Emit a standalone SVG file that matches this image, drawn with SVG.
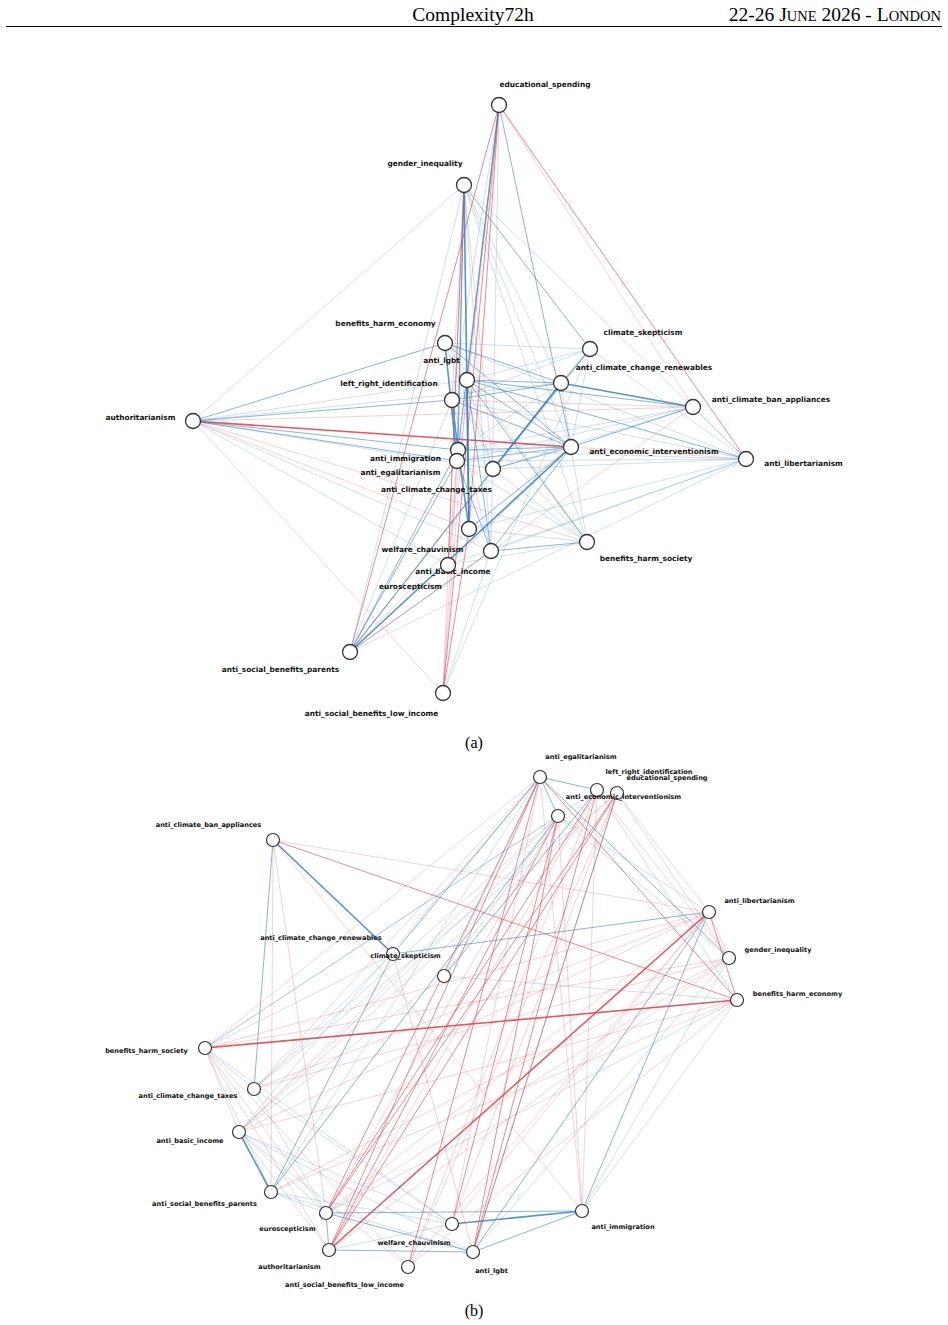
<svg xmlns="http://www.w3.org/2000/svg" width="948" height="1325" viewBox="0 0 948 1325">
<style>
.b1{stroke:#3a80c0;stroke-width:0.7;opacity:0.35}
.b2{stroke:#3a80c0;stroke-width:0.9;opacity:0.65}
.b3{stroke:#3a80c0;stroke-width:1.6;opacity:0.85}
.r1{stroke:#e0464e;stroke-width:0.7;opacity:0.35}
.r2{stroke:#e0464e;stroke-width:0.9;opacity:0.7}
.r3{stroke:#e0464e;stroke-width:1.6;opacity:0.9}
.p1{stroke:#7a5f90;stroke-width:0.8;opacity:0.6}
.na circle{fill:#fff;stroke:#333;stroke-width:1.3}
.nb circle{fill:#fff;stroke:#333;stroke-width:1.2}
.la{font-family:"DejaVu Sans",sans-serif;font-weight:bold;font-size:7.4px;fill:#111;text-anchor:middle}
.lb{font-family:"DejaVu Sans",sans-serif;font-weight:bold;font-size:6.6px;fill:#111;text-anchor:middle}
.cap{font-family:"Liberation Serif",serif;font-size:16px;fill:#000;text-anchor:middle}
</style>
<rect width="948" height="1325" fill="#fff"/>
<g id="header">
<text x="473" y="21" font-family="Liberation Serif, serif" font-size="19.5" text-anchor="middle">Complexity72h</text>
<text x="941" y="21" font-family="Liberation Serif, serif" font-size="19.5" text-anchor="end">22-26 J<tspan font-size="14.5">UNE</tspan> 2026 - L<tspan font-size="14.5">ONDON</tspan></text>
<line x1="6" y1="26.5" x2="942" y2="26.5" stroke="#000" stroke-width="1"/>
</g>
<g id="edges-a">
<line class="r3" x1="193" y1="421" x2="571" y2="447"/>
<line class="r1" x1="571" y1="447" x2="746" y2="459"/>
<line class="b1" x1="193" y1="421" x2="464" y2="185"/>
<line class="b2" x1="193" y1="421" x2="445" y2="343"/>
<line class="b2" x1="193" y1="421" x2="452" y2="400"/>
<line class="b1" x1="193" y1="421" x2="467" y2="380"/>
<line class="b2" x1="193" y1="421" x2="458" y2="450"/>
<line class="b2" x1="193" y1="421" x2="457" y2="461"/>
<line class="b1" x1="193" y1="421" x2="493" y2="469"/>
<line class="r1" x1="193" y1="421" x2="469" y2="529"/>
<line class="r1" x1="193" y1="421" x2="587" y2="542"/>
<line class="r1" x1="193" y1="421" x2="443" y2="693"/>
<line class="b1" x1="193" y1="421" x2="491" y2="551"/>
<line class="b1" x1="193" y1="421" x2="448" y2="565"/>
<line class="r1" x1="193" y1="421" x2="693" y2="407"/>
<line class="b1" x1="193" y1="421" x2="561" y2="383"/>
<line class="r2" x1="499" y1="105" x2="350" y2="652"/>
<line class="r2" x1="499" y1="105" x2="443" y2="693"/>
<line class="r2" x1="499" y1="105" x2="469" y2="529"/>
<line class="r1" x1="499" y1="105" x2="448" y2="565"/>
<line class="b2" x1="499" y1="105" x2="467" y2="380"/>
<line class="b1" x1="499" y1="105" x2="452" y2="400"/>
<line class="b2" x1="499" y1="105" x2="458" y2="450"/>
<line class="b1" x1="499" y1="105" x2="457" y2="461"/>
<line class="b2" x1="499" y1="105" x2="571" y2="447"/>
<line class="r1" x1="499" y1="105" x2="693" y2="407"/>
<line class="r2" x1="499" y1="105" x2="746" y2="459"/>
<line class="b1" x1="499" y1="105" x2="491" y2="551"/>
<line class="b3" x1="464" y1="185" x2="469" y2="529"/>
<line class="b2" x1="464" y1="185" x2="457" y2="461"/>
<line class="b2" x1="464" y1="185" x2="458" y2="450"/>
<line class="b1" x1="464" y1="185" x2="452" y2="400"/>
<line class="r1" x1="464" y1="185" x2="493" y2="469"/>
<line class="b1" x1="464" y1="185" x2="491" y2="551"/>
<line class="b1" x1="464" y1="185" x2="571" y2="447"/>
<line class="b2" x1="464" y1="185" x2="590" y2="349"/>
<line class="b1" x1="464" y1="185" x2="587" y2="542"/>
<line class="r2" x1="464" y1="185" x2="448" y2="565"/>
<line class="b1" x1="464" y1="185" x2="350" y2="652"/>
<line class="r1" x1="464" y1="185" x2="443" y2="693"/>
<line class="b1" x1="464" y1="185" x2="561" y2="383"/>
<line class="b1" x1="464" y1="185" x2="746" y2="459"/>
<line class="b3" x1="445" y1="343" x2="457" y2="461"/>
<line class="b1" x1="445" y1="343" x2="590" y2="349"/>
<line class="b2" x1="445" y1="343" x2="561" y2="383"/>
<line class="b2" x1="445" y1="343" x2="571" y2="447"/>
<line class="b1" x1="445" y1="343" x2="587" y2="542"/>
<line class="b1" x1="445" y1="343" x2="493" y2="469"/>
<line class="b1" x1="445" y1="343" x2="746" y2="459"/>
<line class="b3" x1="467" y1="380" x2="469" y2="529"/>
<line class="b1" x1="467" y1="380" x2="590" y2="349"/>
<line class="b2" x1="467" y1="380" x2="561" y2="383"/>
<line class="b2" x1="467" y1="380" x2="693" y2="407"/>
<line class="b2" x1="467" y1="380" x2="571" y2="447"/>
<line class="b2" x1="467" y1="380" x2="746" y2="459"/>
<line class="b2" x1="467" y1="380" x2="587" y2="542"/>
<line class="b1" x1="467" y1="380" x2="493" y2="469"/>
<line class="b2" x1="467" y1="380" x2="491" y2="551"/>
<line class="b3" x1="452" y1="400" x2="458" y2="450"/>
<line class="b1" x1="452" y1="400" x2="590" y2="349"/>
<line class="b2" x1="452" y1="400" x2="561" y2="383"/>
<line class="r1" x1="452" y1="400" x2="693" y2="407"/>
<line class="b2" x1="452" y1="400" x2="571" y2="447"/>
<line class="b1" x1="452" y1="400" x2="746" y2="459"/>
<line class="b1" x1="452" y1="400" x2="491" y2="551"/>
<line class="b2" x1="458" y1="450" x2="571" y2="447"/>
<line class="b2" x1="457" y1="461" x2="571" y2="447"/>
<line class="b1" x1="458" y1="450" x2="561" y2="383"/>
<line class="b1" x1="457" y1="461" x2="693" y2="407"/>
<line class="b1" x1="457" y1="461" x2="746" y2="459"/>
<line class="b3" x1="458" y1="450" x2="469" y2="529"/>
<line class="b2" x1="457" y1="461" x2="491" y2="551"/>
<line class="b1" x1="457" y1="461" x2="587" y2="542"/>
<line class="b2" x1="457" y1="461" x2="350" y2="652"/>
<line class="b1" x1="457" y1="461" x2="448" y2="565"/>
<line class="b1" x1="458" y1="450" x2="693" y2="407"/>
<line class="b3" x1="493" y1="469" x2="561" y2="383"/>
<line class="b2" x1="493" y1="469" x2="571" y2="447"/>
<line class="b1" x1="493" y1="469" x2="746" y2="459"/>
<line class="b2" x1="493" y1="469" x2="590" y2="349"/>
<line class="b1" x1="493" y1="469" x2="587" y2="542"/>
<line class="b1" x1="493" y1="469" x2="693" y2="407"/>
<line class="b3" x1="561" y1="383" x2="693" y2="407"/>
<line class="b2" x1="561" y1="383" x2="590" y2="349"/>
<line class="b2" x1="561" y1="383" x2="350" y2="652"/>
<line class="b1" x1="561" y1="383" x2="571" y2="447"/>
<line class="b1" x1="590" y1="349" x2="350" y2="652"/>
<line class="b1" x1="590" y1="349" x2="746" y2="459"/>
<line class="b1" x1="590" y1="349" x2="571" y2="447"/>
<line class="b1" x1="590" y1="349" x2="443" y2="693"/>
<line class="b2" x1="693" y1="407" x2="571" y2="447"/>
<line class="b1" x1="693" y1="407" x2="746" y2="459"/>
<line class="r1" x1="693" y1="407" x2="350" y2="652"/>
<line class="b3" x1="571" y1="447" x2="350" y2="652"/>
<line class="b2" x1="571" y1="447" x2="491" y2="551"/>
<line class="b2" x1="571" y1="447" x2="469" y2="529"/>
<line class="b1" x1="571" y1="447" x2="448" y2="565"/>
<line class="b1" x1="571" y1="447" x2="587" y2="542"/>
<line class="b1" x1="746" y1="459" x2="469" y2="529"/>
<line class="b1" x1="746" y1="459" x2="491" y2="551"/>
<line class="b1" x1="746" y1="459" x2="448" y2="565"/>
<line class="b1" x1="746" y1="459" x2="458" y2="450"/>
<line class="b1" x1="746" y1="459" x2="350" y2="652"/>
<line class="b1" x1="587" y1="542" x2="469" y2="529"/>
<line class="b2" x1="587" y1="542" x2="491" y2="551"/>
<line class="b1" x1="587" y1="542" x2="448" y2="565"/>
<line class="b1" x1="587" y1="542" x2="452" y2="400"/>
<line class="b2" x1="350" y1="652" x2="458" y2="450"/>
<line class="b1" x1="350" y1="652" x2="452" y2="400"/>
<line class="b1" x1="350" y1="652" x2="469" y2="529"/>
<line class="p1" x1="350" y1="652" x2="491" y2="551"/>
<line class="p1" x1="350" y1="652" x2="493" y2="469"/>
<line class="r2" x1="443" y1="693" x2="469" y2="529"/>
<line class="r1" x1="443" y1="693" x2="457" y2="461"/>
<line class="b1" x1="443" y1="693" x2="491" y2="551"/>
<line class="r1" x1="443" y1="693" x2="467" y2="380"/>
</g>
<g id="edges-b">
<line class="r3" x1="205" y1="1048" x2="737" y2="1000"/>
<line class="r3" x1="329" y1="1250" x2="709" y2="912"/>
<line class="r2" x1="273" y1="840" x2="737" y2="1000"/>
<line class="r2" x1="540" y1="777" x2="329" y2="1250"/>
<line class="r2" x1="540" y1="777" x2="326" y2="1213"/>
<line class="r2" x1="558" y1="816" x2="329" y2="1250"/>
<line class="r2" x1="617" y1="793" x2="326" y2="1213"/>
<line class="r2" x1="597" y1="790" x2="473" y2="1252"/>
<line class="r2" x1="617" y1="793" x2="473" y2="1252"/>
<line class="r2" x1="540" y1="777" x2="408" y2="1267"/>
<line class="r2" x1="558" y1="816" x2="473" y2="1252"/>
<line class="r2" x1="709" y1="912" x2="737" y2="1000"/>
<line class="r2" x1="540" y1="777" x2="737" y2="1000"/>
<line class="r2" x1="558" y1="816" x2="452" y2="1224"/>
<line class="r2" x1="617" y1="793" x2="329" y2="1250"/>
<line class="r2" x1="597" y1="790" x2="326" y2="1213"/>
<line class="b3" x1="273" y1="840" x2="393" y2="954"/>
<line class="b3" x1="239" y1="1132" x2="271" y2="1192"/>
<line class="b3" x1="452" y1="1224" x2="582" y2="1211"/>
<line class="b2" x1="273" y1="840" x2="254" y2="1089"/>
<line class="b2" x1="393" y1="954" x2="540" y2="777"/>
<line class="b2" x1="393" y1="954" x2="271" y2="1192"/>
<line class="b2" x1="393" y1="954" x2="709" y2="912"/>
<line class="b2" x1="326" y1="1213" x2="582" y2="1211"/>
<line class="b2" x1="326" y1="1213" x2="473" y2="1252"/>
<line class="b2" x1="326" y1="1213" x2="329" y2="1250"/>
<line class="b2" x1="329" y1="1250" x2="473" y2="1252"/>
<line class="b2" x1="473" y1="1252" x2="582" y2="1211"/>
<line class="b2" x1="473" y1="1252" x2="709" y2="912"/>
<line class="b2" x1="582" y1="1211" x2="709" y2="912"/>
<line class="b2" x1="540" y1="777" x2="597" y2="790"/>
<line class="b2" x1="540" y1="777" x2="558" y2="816"/>
<line class="b2" x1="540" y1="777" x2="729" y2="958"/>
<line class="b2" x1="444" y1="976" x2="597" y2="790"/>
<line class="b2" x1="558" y1="816" x2="271" y2="1192"/>
<line class="b1" x1="393" y1="954" x2="205" y2="1048"/>
<line class="b1" x1="393" y1="954" x2="254" y2="1089"/>
<line class="b1" x1="444" y1="976" x2="540" y2="777"/>
<line class="b1" x1="444" y1="976" x2="737" y2="1000"/>
<line class="b1" x1="444" y1="976" x2="239" y2="1132"/>
<line class="b1" x1="444" y1="976" x2="558" y2="816"/>
<line class="b1" x1="254" y1="1089" x2="326" y2="1213"/>
<line class="b1" x1="254" y1="1089" x2="452" y2="1224"/>
<line class="b1" x1="254" y1="1089" x2="558" y2="816"/>
<line class="b1" x1="239" y1="1132" x2="326" y2="1213"/>
<line class="b1" x1="239" y1="1132" x2="329" y2="1250"/>
<line class="b1" x1="239" y1="1132" x2="473" y2="1252"/>
<line class="b1" x1="239" y1="1132" x2="452" y2="1224"/>
<line class="b1" x1="271" y1="1192" x2="326" y2="1213"/>
<line class="b1" x1="271" y1="1192" x2="473" y2="1252"/>
<line class="b1" x1="329" y1="1250" x2="452" y2="1224"/>
<line class="b1" x1="473" y1="1252" x2="729" y2="958"/>
<line class="b1" x1="473" y1="1252" x2="617" y2="793"/>
<line class="b1" x1="582" y1="1211" x2="729" y2="958"/>
<line class="b1" x1="582" y1="1211" x2="737" y2="1000"/>
<line class="b1" x1="558" y1="816" x2="709" y2="912"/>
<line class="b1" x1="558" y1="816" x2="729" y2="958"/>
<line class="b1" x1="597" y1="790" x2="737" y2="1000"/>
<line class="b1" x1="617" y1="793" x2="709" y2="912"/>
<line class="b1" x1="205" y1="1048" x2="452" y2="1224"/>
<line class="b1" x1="205" y1="1048" x2="271" y2="1192"/>
<line class="b1" x1="205" y1="1048" x2="254" y2="1089"/>
<line class="b1" x1="271" y1="1192" x2="452" y2="1224"/>
<line class="b1" x1="239" y1="1132" x2="408" y2="1267"/>
<line class="b1" x1="540" y1="777" x2="271" y2="1192"/>
<line class="b1" x1="540" y1="777" x2="239" y2="1132"/>
<line class="b1" x1="597" y1="790" x2="239" y2="1132"/>
<line class="b1" x1="617" y1="793" x2="254" y2="1089"/>
<line class="b1" x1="326" y1="1213" x2="737" y2="1000"/>
<line class="b1" x1="205" y1="1048" x2="597" y2="790"/>
<line class="b1" x1="205" y1="1048" x2="558" y2="816"/>
<line class="r1" x1="273" y1="840" x2="709" y2="912"/>
<line class="r1" x1="273" y1="840" x2="326" y2="1213"/>
<line class="r1" x1="273" y1="840" x2="271" y2="1192"/>
<line class="r1" x1="273" y1="840" x2="582" y2="1211"/>
<line class="r1" x1="205" y1="1048" x2="729" y2="958"/>
<line class="r1" x1="205" y1="1048" x2="709" y2="912"/>
<line class="r1" x1="205" y1="1048" x2="326" y2="1213"/>
<line class="r1" x1="205" y1="1048" x2="329" y2="1250"/>
<line class="r1" x1="205" y1="1048" x2="408" y2="1267"/>
<line class="r1" x1="205" y1="1048" x2="239" y2="1132"/>
<line class="r1" x1="254" y1="1089" x2="729" y2="958"/>
<line class="r1" x1="254" y1="1089" x2="709" y2="912"/>
<line class="r1" x1="239" y1="1132" x2="737" y2="1000"/>
<line class="r1" x1="239" y1="1132" x2="709" y2="912"/>
<line class="r1" x1="271" y1="1192" x2="729" y2="958"/>
<line class="r1" x1="271" y1="1192" x2="737" y2="1000"/>
<line class="r1" x1="408" y1="1267" x2="737" y2="1000"/>
<line class="r1" x1="408" y1="1267" x2="709" y2="912"/>
<line class="r1" x1="452" y1="1224" x2="709" y2="912"/>
<line class="r1" x1="540" y1="777" x2="452" y2="1224"/>
<line class="r1" x1="617" y1="793" x2="408" y2="1267"/>
<line class="r1" x1="597" y1="790" x2="329" y2="1250"/>
<line class="r1" x1="558" y1="816" x2="239" y2="1132"/>
<line class="r1" x1="617" y1="793" x2="239" y2="1132"/>
<line class="r1" x1="540" y1="777" x2="582" y2="1211"/>
<line class="r1" x1="597" y1="790" x2="582" y2="1211"/>
<line class="r1" x1="729" y1="958" x2="329" y2="1250"/>
<line class="r1" x1="326" y1="1213" x2="709" y2="912"/>
<line class="r1" x1="393" y1="954" x2="473" y2="1252"/>
<line class="r1" x1="617" y1="793" x2="729" y2="958"/>
<line class="r1" x1="597" y1="790" x2="729" y2="958"/>
<line class="r1" x1="540" y1="777" x2="205" y2="1048"/>
<line class="r1" x1="540" y1="777" x2="254" y2="1089"/>
<line class="r1" x1="558" y1="816" x2="326" y2="1213"/>
<line class="r1" x1="617" y1="793" x2="452" y2="1224"/>
<line class="r1" x1="597" y1="790" x2="408" y2="1267"/>
<line class="r1" x1="558" y1="816" x2="582" y2="1211"/>
<line class="r1" x1="729" y1="958" x2="326" y2="1213"/>
<line class="r1" x1="709" y1="912" x2="729" y2="958"/>
</g>
<g id="nodes-a" class="na">
<g id="a-educational_spending"><circle cx="499" cy="105" r="7.5"/><text class="la" x="545" y="86.5">educational_spending</text></g>
<g id="a-gender_inequality"><circle cx="464" cy="185" r="7.5"/><text class="la" x="425" y="165.5">gender_inequality</text></g>
<g id="a-benefits_harm_economy"><circle cx="445" cy="343" r="7.5"/><text class="la" x="385.5" y="325.5">benefits_harm_economy</text></g>
<g id="a-anti_lgbt"><circle cx="467" cy="380" r="7.5"/><text class="la" x="441.5" y="362.5">anti_lgbt</text></g>
<g id="a-left_right_identification"><circle cx="452" cy="400" r="7.5"/><text class="la" x="389" y="385.5">left_right_identification</text></g>
<g id="a-authoritarianism"><circle cx="193" cy="421" r="7.5"/><text class="la" x="140.5" y="419.5">authoritarianism</text></g>
<g id="a-anti_immigration"><circle cx="458" cy="450" r="7.5"/><text class="la" x="405.5" y="460.5">anti_immigration</text></g>
<g id="a-anti_egalitarianism"><circle cx="457" cy="461" r="7.5"/><text class="la" x="400.5" y="474.5">anti_egalitarianism</text></g>
<g id="a-anti_climate_change_taxes"><circle cx="493" cy="469" r="7.5"/><text class="la" x="436.5" y="491.5">anti_climate_change_taxes</text></g>
<g id="a-climate_skepticism"><circle cx="590" cy="349" r="7.5"/><text class="la" x="643" y="334.5">climate_skepticism</text></g>
<g id="a-anti_climate_change_renewables"><circle cx="561" cy="383" r="7.5"/><text class="la" x="644" y="369.5">anti_climate_change_renewables</text></g>
<g id="a-anti_climate_ban_appliances"><circle cx="693" cy="407" r="7.5"/><text class="la" x="771" y="401.5">anti_climate_ban_appliances</text></g>
<g id="a-anti_economic_interventionism"><circle cx="571" cy="447" r="7.5"/><text class="la" x="654" y="453.5">anti_economic_interventionism</text></g>
<g id="a-anti_libertarianism"><circle cx="746" cy="459" r="7.5"/><text class="la" x="803.5" y="465.5">anti_libertarianism</text></g>
<g id="a-welfare_chauvinism"><circle cx="469" cy="529" r="7.5"/><text class="la" x="422.5" y="551.5">welfare_chauvinism</text></g>
<g id="a-anti_basic_income"><circle cx="491" cy="551" r="7.5"/><text class="la" x="453" y="573.5">anti_basic_income</text></g>
<g id="a-euroscepticism"><circle cx="448" cy="565" r="7.5"/><text class="la" x="410.5" y="588.5">euroscepticism</text></g>
<g id="a-benefits_harm_society"><circle cx="587" cy="542" r="7.5"/><text class="la" x="646" y="560.5">benefits_harm_society</text></g>
<g id="a-anti_social_benefits_parents"><circle cx="350" cy="652" r="7.5"/><text class="la" x="280.5" y="671.5">anti_social_benefits_parents</text></g>
<g id="a-anti_social_benefits_low_income"><circle cx="443" cy="693" r="7.5"/><text class="la" x="371.5" y="715.5">anti_social_benefits_low_income</text></g>
</g>
<text id="caption-a" class="cap" x="474" y="748">(a)</text>
<g id="nodes-b" class="nb">
<g id="b-anti_egalitarianism"><circle cx="540" cy="777" r="6.5"/><text class="lb" x="581" y="759.3">anti_egalitarianism</text></g>
<g id="b-left_right_identification"><circle cx="597" cy="790" r="6.5"/><text class="lb" x="649" y="774.3">left_right_identification</text></g>
<g id="b-educational_spending"><circle cx="617" cy="793" r="6.5"/><text class="lb" x="667" y="780.3">educational_spending</text></g>
<g id="b-anti_economic_interventionism"><circle cx="558" cy="816" r="6.5"/><text class="lb" x="623.5" y="799.3">anti_economic_interventionism</text></g>
<g id="b-anti_libertarianism"><circle cx="709" cy="912" r="6.5"/><text class="lb" x="759.5" y="903.3">anti_libertarianism</text></g>
<g id="b-gender_inequality"><circle cx="729" cy="958" r="6.5"/><text class="lb" x="778" y="952.3">gender_inequality</text></g>
<g id="b-benefits_harm_economy"><circle cx="737" cy="1000" r="6.5"/><text class="lb" x="797.5" y="996.3">benefits_harm_economy</text></g>
<g id="b-anti_climate_ban_appliances"><circle cx="273" cy="840" r="6.5"/><text class="lb" x="208.5" y="827.3">anti_climate_ban_appliances</text></g>
<g id="b-anti_climate_change_renewables"><circle cx="393" cy="954" r="6.5"/><text class="lb" x="321" y="940.3">anti_climate_change_renewables</text></g>
<g id="b-climate_skepticism"><circle cx="444" cy="976" r="6.5"/><text class="lb" x="405.5" y="958.3">climate_skepticism</text></g>
<g id="b-benefits_harm_society"><circle cx="205" cy="1048" r="6.5"/><text class="lb" x="146.5" y="1053.3">benefits_harm_society</text></g>
<g id="b-anti_climate_change_taxes"><circle cx="254" cy="1089" r="6.5"/><text class="lb" x="188" y="1098.3">anti_climate_change_taxes</text></g>
<g id="b-anti_basic_income"><circle cx="239" cy="1132" r="6.5"/><text class="lb" x="190" y="1143.3">anti_basic_income</text></g>
<g id="b-anti_social_benefits_parents"><circle cx="271" cy="1192" r="6.5"/><text class="lb" x="204.5" y="1206.3">anti_social_benefits_parents</text></g>
<g id="b-euroscepticism"><circle cx="326" cy="1213" r="6.5"/><text class="lb" x="287.5" y="1231.3">euroscepticism</text></g>
<g id="b-authoritarianism"><circle cx="329" cy="1250" r="6.5"/><text class="lb" x="289.5" y="1269.3">authoritarianism</text></g>
<g id="b-anti_social_benefits_low_income"><circle cx="408" cy="1267" r="6.5"/><text class="lb" x="344.5" y="1287.3">anti_social_benefits_low_income</text></g>
<g id="b-welfare_chauvinism"><circle cx="452" cy="1224" r="6.5"/><text class="lb" x="414" y="1245.3">welfare_chauvinism</text></g>
<g id="b-anti_lgbt"><circle cx="473" cy="1252" r="6.5"/><text class="lb" x="491.5" y="1273.3">anti_lgbt</text></g>
<g id="b-anti_immigration"><circle cx="582" cy="1211" r="6.5"/><text class="lb" x="623" y="1229.3">anti_immigration</text></g>
</g>
<text id="caption-b" class="cap" x="474" y="1316">(b)</text>
</svg>
